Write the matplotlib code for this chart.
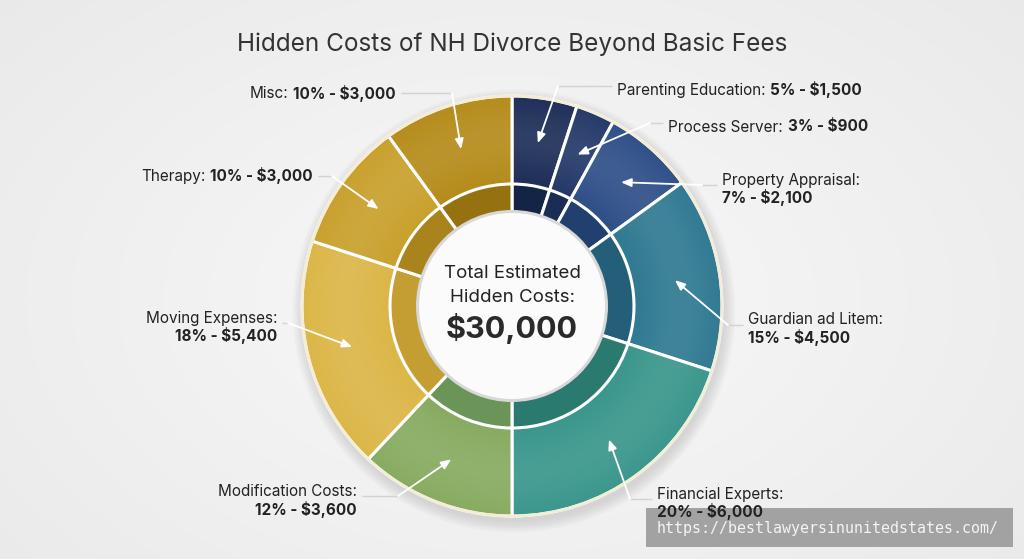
import matplotlib.pyplot as plt
import numpy as np
from matplotlib.patches import Circle, Rectangle

# Data -------------------------------------------------------------------

categories = ['Parenting Education', 'Process Server', 'Property Appraisal',
              'Guardian ad Litem', 'Financial Experts', 'Modification Costs',
              'Moving Expenses', 'Therapy', 'Misc']
percents = [5, 3, 7, 15, 20, 12, 18, 10, 10]
amounts = [1500, 900, 2100, 4500, 6000, 3600, 5400, 3000, 3000]
total = 30000

title = 'Hidden Costs of NH Divorce Beyond Basic Fees'
center_lines = ['Total Estimated', 'Hidden Costs:']
watermark = 'https://bestlawyersinunitedstates.com/'

colors = ['#1b2c56', '#213767', '#2c4d86', '#2d7890', '#38958a',
          '#86aa5e', '#dbb545', '#c89f2a', '#b48a18']
band_colors = ['#142444', '#1a2d55', '#22406f', '#235f78', '#2b7a70',
               '#6a9458', '#c49e33', '#a9841d', '#967110']

# label layout in pixels from top-left: x, y, align, two lines?, elbow x
label_layout = [
    (617, 90, 'left', False, 558),
    (668, 127, 'left', False, 650),
    (722, 180, 'left', True, 702),
    (748, 320, 'left', True, 728),
    (657, 494, 'left', True, 630),
    (357, 491, 'right', True, 398),
    (277, 318, 'right', True, 288),
    (313, 176, 'right', False, 332),
    (396, 93, 'right', False, 452),
]

#-------------------------------------------------------------------------

W, H = 1024, 559
CX, CY = 512, H - 306
R_OUT, R_BAND, R_HOLE = 210, 122, 93
FONT = 'Inter'
TXT = '#222222'

plt.rcParams['font.family'] = [FONT, 'DejaVu Sans']

fig = plt.figure(figsize=(W / 100, H / 100), dpi=100)
ax = fig.add_axes([0, 0, 1, 1])

# background: soft radial light
yy, xx = np.mgrid[0:H, 0:W]
dist = np.sqrt(((xx - CX) / 700.0) ** 2 + ((yy - (H - 300)) / 450.0) ** 2)
shade = np.clip(0.975 - 0.06 * dist, 0, 1)
ax.imshow(np.dstack([shade, shade, shade]), extent=(0, W, 0, H), origin='lower',
          zorder=0, aspect='auto')

# drop shadow under the ring
for k in range(8):
    ax.add_patch(Circle((CX + 2, CY - 5), R_OUT + 1 + k * 1.5, color='#808080',
                        alpha=0.03, lw=0, zorder=1))

ax.pie(amounts, radius=R_OUT, center=(CX, CY), startangle=90, counterclock=False,
       colors=colors, frame=True,
       wedgeprops=dict(width=R_OUT - R_BAND + 1, edgecolor='white', linewidth=2.2, zorder=2))

# soft highlight across the outer ring
rr = np.sqrt((xx - CX) ** 2 + (yy - CY) ** 2)
glow = np.exp(-((rr - 168) / 36.0) ** 2) * 0.09
overlay = np.zeros((H, W, 4))
overlay[..., :3] = 1.0
overlay[..., 3] = glow
im = ax.imshow(overlay, extent=(0, W, 0, H), origin='lower', zorder=2.5, aspect='auto')
clip = Circle((CX, CY), R_OUT, transform=ax.transData)
im.set_clip_path(clip)

ax.pie(amounts, radius=R_BAND, center=(CX, CY), startangle=90, counterclock=False,
       colors=band_colors, frame=True,
       wedgeprops=dict(width=R_BAND - R_HOLE, edgecolor='white', linewidth=2.2, zorder=3))

ax.add_patch(Circle((CX, CY), R_OUT, fill=False, ec='#f4ecd4', lw=2, zorder=3.2))
ax.add_patch(Circle((CX, CY), R_BAND, fill=False, ec='#ffffff', lw=0.6, alpha=0.35, zorder=3.2))
ax.add_patch(Circle((CX, CY), R_HOLE + 3, color='#d8d8d8', lw=0, zorder=3.3))
ax.add_patch(Circle((CX, CY), R_HOLE, color='#fbfbfb', lw=0, zorder=3.4))

# center text
ax.text(CX, H - 273, center_lines[0], ha='center', va='center', fontsize=13.5, color=TXT, zorder=4)
ax.text(CX, H - 297, center_lines[1], ha='center', va='center', fontsize=13.5, color=TXT, zorder=4)
ax.text(CX, H - 329, f'${total:,}', ha='center', va='center', fontsize=22,
        fontweight='bold', color='#2a2a2a', zorder=4)

ax.text(W / 2, H - 44, title, ha='center', va='center', fontsize=17.5, color='#333333')

# labels and arrows
fracs = np.array(amounts) / total
ends = np.cumsum(fracs) * 360
mids = np.radians(ends - fracs * 180)
r_arrow = 165
tx = CX + r_arrow * np.sin(mids)
ty = CY + r_arrow * np.cos(mids)

for i, name in enumerate(categories):
    x, ytop, align, two, elbow = label_layout[i]
    y = H - ytop
    normal = name + ':'
    bold = f'{percents[i]}% - ${amounts[i]:,}'
    if two:
        ax.text(x, y, normal, ha=align, va='center', fontsize=11, color=TXT, zorder=6)
        ax.text(x, y - 18, bold, ha=align, va='center', fontsize=11, fontweight='bold',
                color=TXT, zorder=6)
        ly = y - 5
    else:
        if align == 'left':
            t1 = ax.text(x, y, normal, ha='left', va='center', fontsize=11, color=TXT, zorder=6)
            ax.annotate(bold, xy=(1, 0), xycoords=t1, xytext=(3.5, 0), textcoords='offset points',
                        ha='left', va='bottom', fontsize=11, fontweight='bold', color=TXT, zorder=6)
        else:
            t2 = ax.text(x, y, bold, ha='right', va='center', fontsize=11, fontweight='bold',
                         color=TXT, zorder=6)
            ax.annotate(normal, xy=(0, 0), xycoords=t2, xytext=(-3.5, 0), textcoords='offset points',
                        ha='right', va='bottom', fontsize=11, color=TXT, zorder=6)
        ly = y + 4 if align == 'left' else y
    start = x - 5 if align == 'left' else x + 5
    ax.plot([start, elbow], [ly, ly], color='#d2d2d2', lw=1, zorder=5, solid_capstyle='butt')
    ax.annotate('', xy=(tx[i], ty[i]), xytext=(elbow, ly),
                arrowprops=dict(arrowstyle='-|>,head_length=0.6,head_width=0.25',
                                color='white', lw=1.3, shrinkA=0, shrinkB=0), zorder=5)

# watermark box
ax.add_patch(Rectangle((646, H - 547), 367, 39, color='#9c9c9c', alpha=0.92, lw=0, zorder=5))
ax.text(657, H - 528, watermark, ha='left', va='center', fontsize=10.8,
        family='DejaVu Sans Mono', color='#f4f4f4', zorder=6)

ax.set_xlim(0, W)
ax.set_ylim(0, H)
ax.set_aspect('auto')
ax.axis('off')

plt.savefig('out.png', dpi=100)
